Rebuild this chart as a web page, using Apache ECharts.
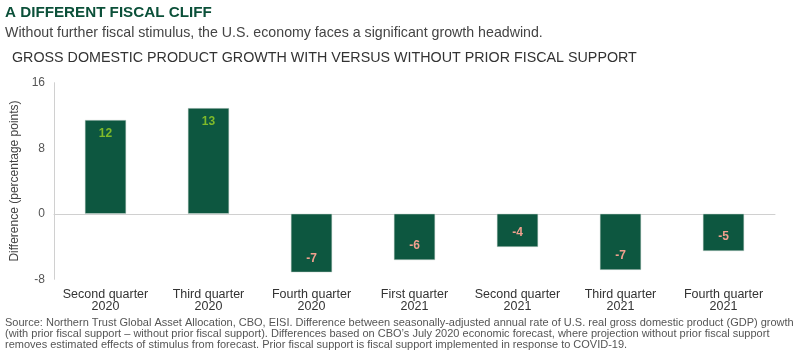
<!DOCTYPE html>
<html>
<head>
<meta charset="utf-8">
<script src="https://cdn.jsdelivr.net/npm/echarts@6/dist/echarts.min.js"></script>
<style>
html,body{margin:0;padding:0;background:#fff;}
#chart{width:800px;height:356px;}
</style>
</head>
<body>
<div id="chart"></div>
<script>
const categories = ["Second quarter\n2020","Third quarter\n2020","Fourth quarter\n2020","First quarter\n2021","Second quarter\n2021","Third quarter\n2021","Fourth quarter\n2021"];
const values = [11.45, 12.9, -7.15, -5.65, -4.05, -6.85, -4.55];
const valueLabels = ["12","13","-7","-6","-4","-7","-5"];
const yTicks = [-8, 0, 8, 16];

const chart = echarts.init(document.getElementById('chart'));
const font = '"Liberation Sans", Arial, sans-serif';
const option = {
  animation: false,
  textStyle: {fontFamily: font},
  title: [
    {text: 'A DIFFERENT FISCAL CLIFF', left: 5, top: 5, padding: 0, textStyle: {fontFamily: font, fontSize: 15.2, fontWeight: 'bold', color: '#0b5039'}},
    {text: 'Without further fiscal stimulus, the U.S. economy faces a significant growth headwind.', left: 5, top: 26, padding: 0, textStyle: {fontFamily: font, fontSize: 14.2, fontWeight: 'normal', color: '#444'}},
    {text: 'GROSS DOMESTIC PRODUCT GROWTH WITH VERSUS WITHOUT PRIOR FISCAL SUPPORT', left: 12, top: 51, padding: 0, textStyle: {fontFamily: font, fontSize: 14.3, fontWeight: 'normal', color: '#333'}},
    {text: 'Source: Northern Trust Global Asset Allocation, CBO, EISI. Difference between seasonally-adjusted annual rate of U.S. real gross domestic product (GDP) growth\n(with prior fiscal support \u2013 without prior fiscal support). Differences based on CBO\u2019s July 2020 economic forecast, where projection without prior fiscal support\nremoves estimated effects of stimulus from forecast. Prior fiscal support is fiscal support implemented in response to COVID-19.',
     left: 5, top: 317, padding: 0, textStyle: {fontFamily: font, fontSize: 11, fontWeight: 'normal', color: '#555', lineHeight: 11}}
  ],
  grid: {left: 54, right: 25, top: 82.7, bottom: 356 - 279.3},
  xAxis: {
    type: 'category',
    data: categories,
    axisLine: {onZero: true, lineStyle: {color: '#d0d0d0', width: 1}},
    axisTick: {show: false},
    axisLabel: {color: '#333', fontSize: 12.5, lineHeight: 12, margin: 9, interval: 0},
    position: 'bottom'
  },
  yAxis: {
    type: 'value',
    min: yTicks[0], max: yTicks[yTicks.length - 1], interval: 8,
    name: 'Difference (percentage points)',
    nameLocation: 'middle', nameGap: 27, nameRotate: 90,
    nameTextStyle: {color: '#444', fontSize: 12},
    axisLine: {show: true, lineStyle: {color: '#d0d0d0'}},
    axisTick: {show: false},
    splitLine: {show: false},
    axisLabel: {color: '#555', fontSize: 12, margin: 9}
  },
  series: [{
    type: 'bar',
    barWidth: '40%',
    data: values.map((v, i) => ({
      value: v,
      label: {
        show: true,
        position: v >= 0 ? 'insideTop' : 'insideBottom',
        distance: 8,
        formatter: () => valueLabels[i],
        color: v >= 0 ? '#7fba2a' : '#f0a08e',
        fontWeight: 'bold', fontSize: 12, fontFamily: font
      }
    })),
    itemStyle: {color: '#0d5740', borderColor: '#c8d4cf', borderWidth: 0.5}
  }]
};
chart.setOption(option);
</script>
</body>
</html>
